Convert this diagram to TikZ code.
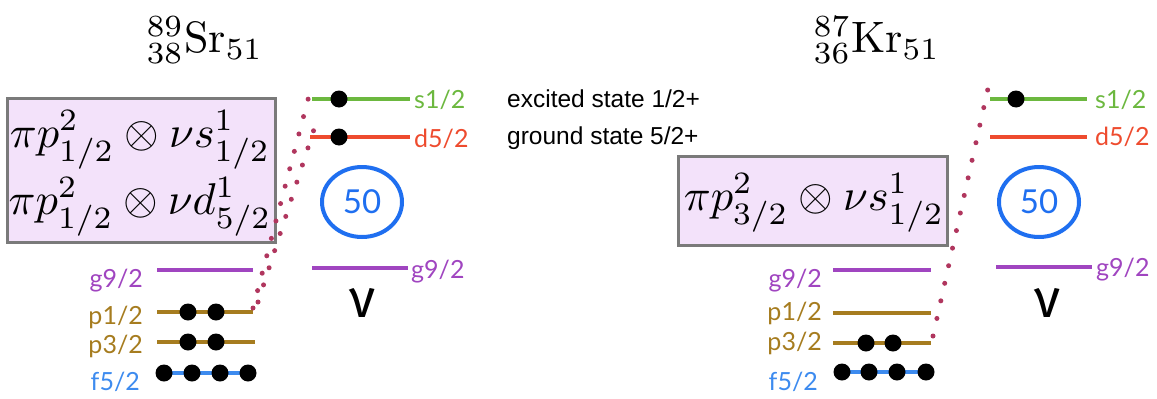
\documentclass[tikz,border=0pt]{standalone}
\usepackage{fontspec}
\usetikzlibrary{shapes.geometric}
\newfontfamily\latofont{Lato}
\newfontfamily\firafont{Fira Sans}
\newfontfamily\arialfont{Liberation Sans}
\definecolor{lvgreen}{HTML}{6CB83F}
\definecolor{lvred}{HTML}{EE4B2E}
\definecolor{lvpurple}{HTML}{A045C0}
\definecolor{lvgold}{HTML}{A67C1F}
\definecolor{lvblue}{HTML}{3D8BEF}
\definecolor{circblue}{HTML}{1F6FF0}
\definecolor{boxpink}{HTML}{F3E2FA}
\definecolor{boxgray}{HTML}{7A7A7A}
\definecolor{dotred}{HTML}{B0365E}
\begin{document}
\begin{tikzpicture}[x=1pt,y=-1pt,
  lev/.style={line width=4pt},
  fermion/.style={circle,fill=black,inner sep=0pt,minimum size=17pt},
  lab/.style={inner sep=0pt,font=\latofont\fontsize{25}{30}\selectfont},
  boxst/.style={fill=boxpink,draw=boxgray,line width=3pt},
  mathtxt/.style={inner sep=0pt,scale=4.45},
  titletxt/.style={inner sep=0pt,scale=4.4},
  dotline/.style={draw=dotred,line width=5pt,line cap=round,dash pattern=on 0pt off 18pt},
  shell/.style={ellipse,draw=circblue,line width=4pt,minimum width=80pt,minimum height=70pt,inner sep=0pt,text=circblue,font=\latofont\fontsize{33}{33}\selectfont},
  nu/.style={inner sep=0pt,font=\firafont\fontsize{54}{54}\selectfont},
  note/.style={inner sep=0pt,font=\arialfont\fontsize{24.5}{28}\selectfont}]
\useasboundingbox (0,0) rectangle (1157,399);

% ---------------- left panel: 89Sr ----------------
\node[titletxt] (srt) at (205,40) {${}^{89}_{38}\mathrm{Sr}_{51}$};
\draw[boxst] (7,98) rectangle (275,242);
\node[mathtxt] (sra) at (140,140) {$\pi p^2_{1/2}\otimes\nu s^1_{1/2}$};
\node[mathtxt] (srb) at (140,207) {$\pi p^2_{1/2}\otimes\nu d^1_{5/2}$};

% proton levels
\draw[lev,lvpurple] (157,270) -- (253,270);
\draw[lev,lvgold] (157,312) -- (253,312);
\draw[lev,lvgold] (157,342) -- (255,342);
\draw[lev,lvblue] (164,373) -- (248,373);
\node[lab,text=lvpurple,anchor=base east] (srg) at (143,287) {g9/2};
\node[lab,text=lvgold,anchor=base east] (srp1) at (143,324) {p1/2};
\node[lab,text=lvgold,anchor=base east] (srp3) at (143,353) {p3/2};
\node[lab,text=lvblue,anchor=base east] (srf) at (140,390) {f5/2};
\node[fermion] (d1) at (188,312) {};
\node[fermion] (d2) at (216,312) {};
\node[fermion] (d3) at (188,342) {};
\node[fermion] (d4) at (216,342) {};
\node[fermion] (d5) at (164,373) {};
\node[fermion] (d6) at (192,373) {};
\node[fermion] (d7) at (220,373) {};
\node[fermion] (d8) at (248,373) {};

% neutron levels
\draw[lev,lvgreen] (312,99) -- (410,99);
\draw[lev,lvred] (310,137) -- (410,137);
\draw[lev,lvpurple] (312,268) -- (408,268);
\node[lab,text=lvgreen,anchor=base west] (srs) at (414,108) {s1/2};
\node[lab,text=lvred,anchor=base west] (srd) at (414,147) {d5/2};
\node[lab,text=lvpurple,anchor=base west] (srgn) at (411,278) {g9/2};
\node[fermion] (d9) at (339,99) {};
\node[fermion] (d10) at (339,137) {};
\node[shell] (sr50) at (362,202) {50};
\node[nu] (srnu) at (363,303) {ν};

% dotted excitations
\coordinate (sra0) at (253,308);
\coordinate (sra1) at (310,92);
\coordinate (srb0) at (258,302);
\coordinate (srb1) at (317,120);
\draw[dotline] (sra0) -- (sra1);
\draw[dotline] (srb0) -- (srb1);

% notes
\node[note,anchor=base west] (ex) at (507,107) {excited state 1/2+};
\node[note,anchor=base west] (gs) at (507,144) {ground state 5/2+};

% ---------------- right panel: 87Kr ----------------
\node[titletxt] (krt) at (877,40) {${}^{87}_{36}\mathrm{Kr}_{51}$};
\draw[boxst] (678,156) rectangle (947,245);
\node[mathtxt] (kra) at (814,203) {$\pi p^2_{3/2}\otimes\nu s^1_{1/2}$};

\draw[lev,lvpurple] (833,270) -- (931,270);
\draw[lev,lvgold] (833,313) -- (931,313);
\draw[lev,lvgold] (833,343) -- (931,343);
\draw[lev,lvblue] (842,372) -- (926,372);
\node[lab,text=lvpurple,anchor=base east] (krg) at (822,287) {g9/2};
\node[lab,text=lvgold,anchor=base east] (krp1) at (822,320) {p1/2};
\node[lab,text=lvgold,anchor=base east] (krp3) at (822,350) {p3/2};
\node[lab,text=lvblue,anchor=base east] (krf) at (818,390) {f5/2};
\node[fermion] (e1) at (866,343) {};
\node[fermion] (e2) at (893,343) {};
\node[fermion] (e3) at (842,372) {};
\node[fermion] (e4) at (869,372) {};
\node[fermion] (e5) at (897,372) {};
\node[fermion] (e6) at (926,372) {};

\draw[lev,lvgreen] (990,99) -- (1087,99);
\draw[lev,lvred] (990,137) -- (1087,137);
\draw[lev,lvpurple] (996,267) -- (1092,267);
\node[lab,text=lvgreen,anchor=base west] (krs) at (1095,108) {s1/2};
\node[lab,text=lvred,anchor=base west] (krd) at (1095,145) {d5/2};
\node[lab,text=lvpurple,anchor=base west] (krgn) at (1096,276) {g9/2};
\node[fermion] (e7) at (1016,99) {};
\node[shell] (kr50) at (1039,202) {50};
\node[nu] (krnu) at (1048,303) {ν};

\coordinate (kr0) at (933,336);
\coordinate (kr1) at (989,84);
\draw[dotline] (kr0) -- (kr1);
\end{tikzpicture}
\end{document}
